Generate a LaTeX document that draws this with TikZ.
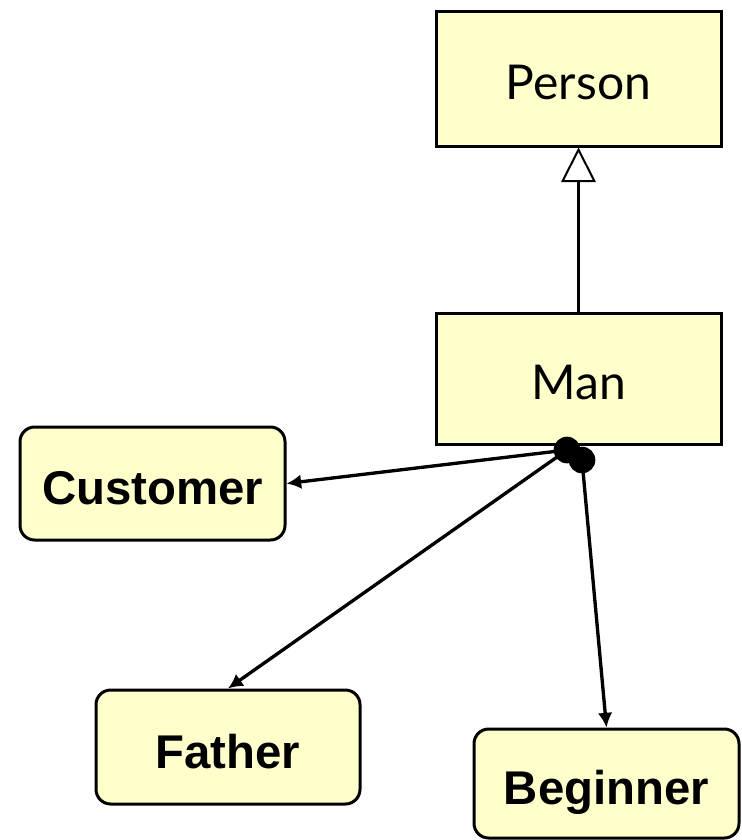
\documentclass[tikz,border=0pt]{standalone}
\usepackage{fontspec}
\setmainfont{Liberation Sans}
\newfontfamily\latofont{Lato}
\usepackage{xcolor}
\definecolor{box_yellow}{HTML}{FFFFCC}
\usetikzlibrary{arrows.meta,positioning}

\begin{document}
\begin{tikzpicture}[x=0.75pt, y=-0.75pt]
\tikzset{
    classbox/.style={draw, fill=box_yellow, line width=2.25pt, inner sep=0pt,
        text height=34pt, text depth=2pt,
        font=\latofont\fontsize{36}{42}\selectfont},
    rolebox/.style={draw, fill=box_yellow, line width=2.25pt, rounded corners=11pt, inner sep=0pt,
        text height=33.5pt, text depth=2pt,
        font=\bfseries\fontsize{35.5}{42}\selectfont},
    dot/.style={circle, fill=black, inner sep=0pt, minimum size=20pt},
    edge/.style={line width=2.5pt, -{Latex[length=11pt, width=11pt]}},
    inherit/.style={line width=2.5pt, -{Triangle[open, length=26pt, width=26pt, line width=1.5pt]}}
}
\useasboundingbox (0,0) rectangle (742,840);
  % classes
\node[classbox, minimum width=213.75pt, minimum height=101.25pt] (person) at (578.5,78.5) {Person};
\node[classbox, minimum width=213.75pt, minimum height=98.25pt] (man) at (578.5,378.5) {Man};
  % roles
\node[rolebox, minimum width=198.75pt, minimum height=84.75pt] (customer) at (152.5,483.5) {Customer};
\node[rolebox, minimum width=198pt, minimum height=85.5pt] (father) at (228,747) {Father};
\node[rolebox, minimum width=198.75pt, minimum height=81.75pt] (beginner) at (606.5,783.5) {Beginner};
  % edges
\draw[inherit] (man.north) -- (person.south);
\draw[edge] (567,450) coordinate (d1) -- (customer.east);
\draw[edge] (d1) -- (father.north);
\draw[edge] (582,460) coordinate (d2) -- (beginner.north);
\node[dot] (dot1) at (d1) {};
\node[dot] (dot2) at (d2) {};
\end{tikzpicture}
\end{document}
